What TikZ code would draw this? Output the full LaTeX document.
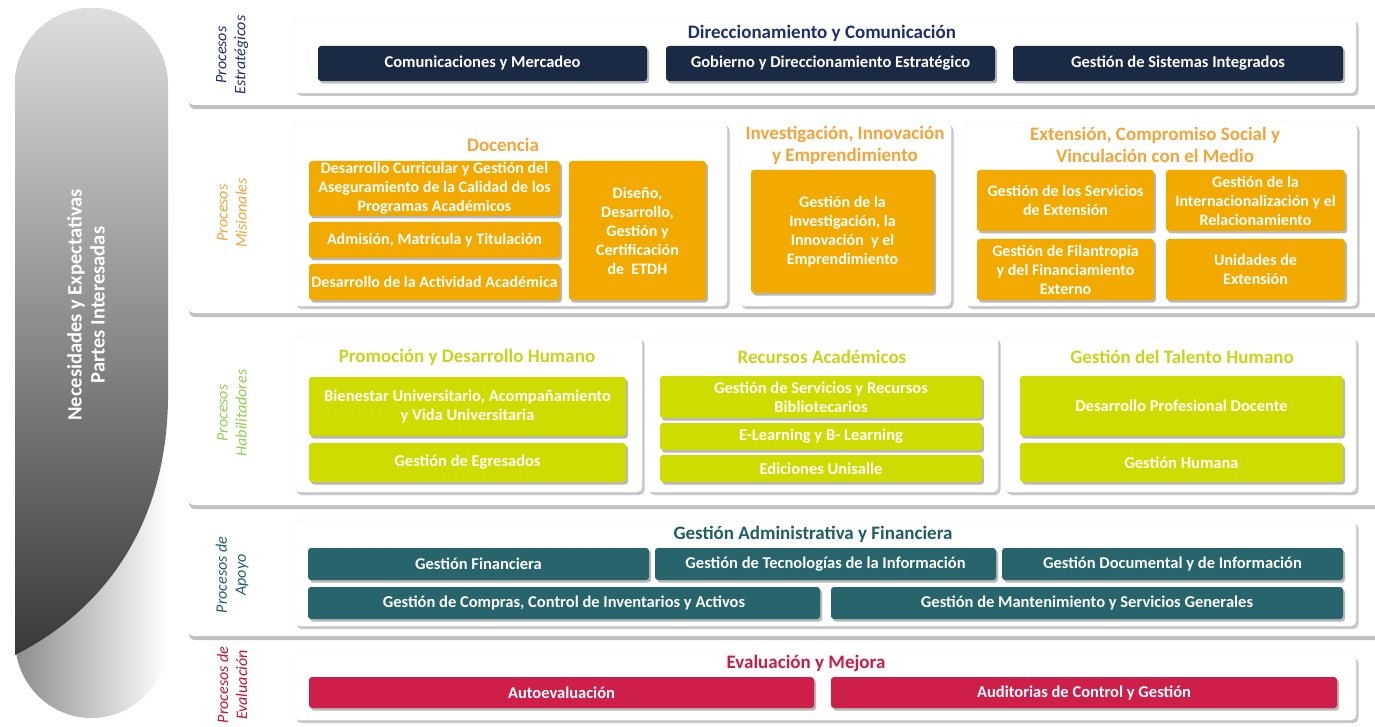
\documentclass[tikz,border=0pt]{standalone}
\usepackage{fontspec}
\setmainfont{Carlito}
\usetikzlibrary{shadows}
\definecolor{navybox}{HTML}{1B2A44}
\definecolor{navytxt}{HTML}{1F2F6C}
\definecolor{orabox}{HTML}{F2A900}
\definecolor{oratxt}{HTML}{F2A53A}
\definecolor{limebox}{HTML}{CFDC00}
\definecolor{limetxt}{HTML}{C8D41A}
\definecolor{habtxt}{HTML}{92CF52}
\definecolor{tealbox}{HTML}{27646C}
\definecolor{tealtxt}{HTML}{205E67}
\definecolor{redbox}{HTML}{CE1F4A}
\definecolor{redtxt}{HTML}{C91D48}
\definecolor{evaltxt}{HTML}{C0152F}
\newcommand{\bxf}{\fontsize{16.5}{19}\selectfont\bfseries}
\newcommand{\bxm}{\fontsize{16}{19}\selectfont\bfseries}
\newcommand{\ttlf}{\fontsize{19}{22}\selectfont\bfseries}
\newcommand{\labf}{\fontsize{16}{19}\selectfont\itshape}
\newcommand{\panel}[7]{\node[#1, minimum width={(#5)-(#3)}, minimum height={(#6)-(#4)}] (#2) at ({((#3)+(#5))/2},{((#4)+(#6))/2}) {#7};}
\tikzset{
  outerpanel/.style={fill=white, draw=none, rounded corners=6pt, inner sep=0pt,
    drop shadow={shadow xshift=1pt, shadow yshift=-4pt, opacity=0.35, fill=black!70}},
  innerpanel/.style={fill=white, draw=black!6, rounded corners=5pt, inner sep=0pt,
    drop shadow={shadow xshift=2.5pt, shadow yshift=-3pt, opacity=0.3, fill=black!70}},
  bx/.style={rounded corners=3pt, text=white, font=\bxf, align=center, inner sep=1pt,
    drop shadow={shadow xshift=2pt, shadow yshift=-2.5pt, opacity=0.35, fill=black!80}},
  navyb/.style={bx, fill=navybox},
  orab/.style={bx, fill=orabox, font=\bxm},
  limeb/.style={bx, fill=limebox},
  tealb/.style={bx, fill=tealbox},
  redb/.style={bx, fill=redbox},
  ttl/.style={font=\ttlf, align=center, inner sep=0pt},
  lab/.style={font=\labf, align=center, rotate=90, inner sep=0pt}
}
\begin{document}
\begin{tikzpicture}[x=1pt, y=-1pt]
\useasboundingbox (0,0) rectangle (1375,727);
\fill[white] (0,0) rectangle (1375,727);
% left page curl
\shade[left color=black!45, middle color=black!8, right color=white]
  (15,85) .. controls (15,43) and (49,8) .. (91.5,8) .. controls (134,8) and (168,43) .. (168,85)
  -- (168,640) .. controls (168,683) and (134,718) .. (91.5,718) .. controls (49,718) and (15,683) .. (15,640) -- cycle;
\shade[top color=black!13, bottom color=black!78]
  (15,655) -- (15,85) .. controls (15,43) and (49,8) .. (91.5,8) .. controls (134,8) and (168,43) .. (168,85)
  -- (168,400) .. controls (166,530) and (100,612) .. (15,655) -- cycle;
\node[rotate=90, text=white, font=\fontsize{20.5}{23}\selectfont\bfseries, align=center] (need) at (86,305) {Necesidades y Expectativas\\Partes Interesadas};
% outer panels
\panel{outerpanel}{rowA}{188}{3}{1385}{105}{}
\panel{outerpanel}{rowB}{188}{113}{1385}{313}{}
\panel{outerpanel}{rowC}{188}{320}{1385}{505}{}
\panel{outerpanel}{rowD}{188}{512}{1385}{636}{}
\panel{outerpanel}{rowE}{188}{644}{1385}{740}{}
% row labels
\node[lab, text=navytxt] (labA) at (232,55) {Procesos\\Estratégicos};
\node[lab, text=oratxt] (labB) at (232,213) {Procesos\\Misionales};
\node[lab, text=habtxt] (labC) at (232,413) {Procesos\\Habilitadores};
\node[lab, text=tealtxt] (labD) at (232,575) {Procesos de\\Apoyo};
\node[lab, text=evaltxt] (labE) at (232,685) {Procesos de\\Evaluación};
% ---- Estrategicos
\panel{innerpanel}{pA}{294}{18}{1356}{93}{}
\node[ttl, text=navytxt] (tA) at (822,33) {Direccionamiento y Comunicación};
\panel{navyb}{a1}{318}{46}{647}{81}{Comunicaciones y Mercadeo}
\panel{navyb}{a2}{666}{46}{995}{81}{Gobierno y Direccionamiento Estratégico}
\panel{navyb}{a3}{1013}{46}{1343}{81}{Gestión de Sistemas Integrados}
% ---- Misionales
\panel{innerpanel}{pB1}{294}{122}{727}{306}{}
\node[ttl, text=oratxt] (tB1) at (503,145) {Docencia};
\panel{orab}{b1}{309}{161}{560}{216}{\fontsize{16}{17.5}\selectfont Desarrollo Curricular y Gestión del\\Aseguramiento de la Calidad de los\\Programas Académicos}
\panel{orab}{b2}{309}{222}{560}{258}{Admisión, Matrícula y Titulación}
\panel{orab}{b3}{309}{264}{560}{300}{Desarrollo de la Actividad Académica}
\panel{orab}{b4}{569}{161}{706}{300}{Diseño,\\Desarrollo,\\Gestión y\\Certificación\\de~~ETDH}
\panel{innerpanel}{pB2}{739}{122}{951}{306}{}
\node[ttl, text=oratxt] (tB2) at (845,145) {Investigación, Innovación\\y Emprendimiento};
\panel{orab}{b5}{751}{170}{934}{293}{\fontsize{16}{20}\selectfont Gestión de la\\Investigación, la\\Innovación~~y el\\Emprendimiento}
\panel{innerpanel}{pB3}{965}{122}{1357}{306}{}
\node[ttl, text=oratxt] (tB3) at (1155,145) {Extensión, Compromiso Social y\\Vinculación con el Medio};
\panel{orab}{b6}{977}{170}{1154}{231}{Gestión de los Servicios\\de Extensión}
\panel{orab}{b7}{1166}{170}{1345}{231}{Gestión de la\\Internacionalización y el\\Relacionamiento}
\panel{orab}{b8}{977}{239}{1154}{300}{Gestión de Filantropía\\y del Financiamiento\\Externo}
\panel{orab}{b9}{1166}{239}{1345}{300}{Unidades de\\Extensión}
% ---- Habilitadores
\panel{innerpanel}{pC1}{294}{336}{642}{492}{}
\node[ttl, text=limetxt] (tC1) at (467,357) {Promoción y Desarrollo Humano};
\panel{limeb}{c1}{309}{377}{626}{436}{Bienestar Universitario, Acompañamiento\\y Vida Universitaria}
\panel{limeb}{c2}{309}{443}{626}{482}{Gestión de Egresados}
\panel{innerpanel}{pC2}{647}{336}{998}{492}{}
\node[ttl, text=limetxt] (tC2) at (822,357) {Recursos Académicos};
\panel{limeb}{c3}{660}{376}{982}{418}{\fontsize{16.5}{21}\selectfont Gestión de Servicios y Recursos\\Bibliotecarios}
\panel{limeb}{c4}{660}{423}{982}{450}{E-Learning y B- Learning}
\panel{limeb}{c5}{660}{455}{982}{482}{Ediciones Unisalle}
\panel{innerpanel}{pC3}{1004}{336}{1356}{492}{}
\node[ttl, text=limetxt] (tC3) at (1182,357) {Gestión del Talento Humano};
\panel{limeb}{c6}{1020}{376}{1343}{436}{Desarrollo Profesional Docente}
\panel{limeb}{c7}{1020}{443}{1343}{482}{Gestión Humana}
% ---- Apoyo
\panel{innerpanel}{pD}{294}{520}{1356}{626}{}
\node[ttl, text=tealtxt] (tD) at (813,534) {Gestión Administrativa y Financiera};
\panel{tealb}{d1}{308}{548}{649}{580}{Gestión Financiera}
\panel{tealb}{d2}{655}{548}{996}{580}{Gestión de Tecnologías de la Información}
\panel{tealb}{d3}{1002}{548}{1343}{580}{Gestión Documental y de Información}
\panel{tealb}{d4}{308}{587}{820}{619}{Gestión de Compras, Control de Inventarios y Activos}
\panel{tealb}{d5}{831}{587}{1343}{619}{Gestión de Mantenimiento y Servicios Generales}
% ---- Evaluacion
\panel{innerpanel}{pE}{294}{655}{1356}{720}{}
\node[ttl, text=redtxt] (tE) at (806,663) {Evaluación y Mejora};
\panel{redb}{e1}{309}{677}{814}{708}{Autoevaluación}
\panel{redb}{e2}{831}{677}{1337}{708}{Auditorias de Control y Gestión}
\end{tikzpicture}
\end{document}
